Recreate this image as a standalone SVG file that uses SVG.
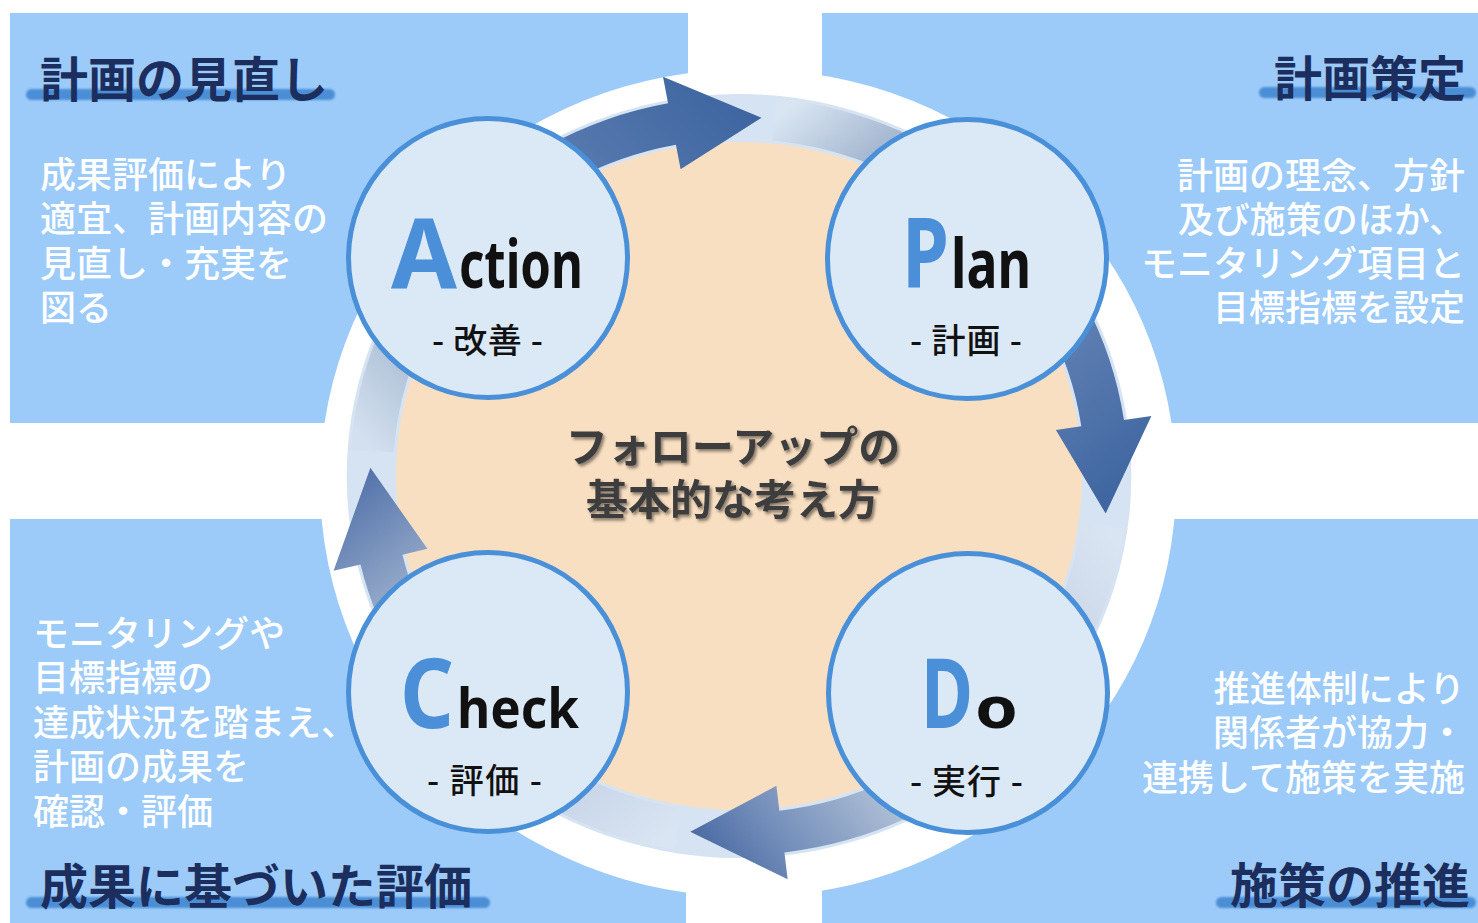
<svg xmlns="http://www.w3.org/2000/svg" width="1478" height="923" viewBox="0 0 1478 923">
<defs>
<style>
.panel{fill:#9ccbf9}
.bar{fill:#4b8ed6}
.hdr{font-family:"Noto Sans CJK JP",sans-serif;font-weight:700;font-size:48px;fill:#1b2e5e}
.body{font-family:"Noto Sans CJK JP",sans-serif;font-weight:500;font-size:36px;fill:#ffffff}
.node circle{fill:#dbe8f6;stroke:#4a90d9;stroke-width:5}
.word{font-family:"Noto Sans","Open Sans",sans-serif;font-weight:700;fill:#111111}
.big{fill:#4a8fd8}
.sub{font-family:"Noto Sans CJK JP",sans-serif;font-weight:500;font-size:34px;fill:#111111}
.center{font-family:"Noto Sans CJK JP",sans-serif;font-weight:700;font-size:42px;fill:#3c3c3c;text-anchor:middle}
.end{text-anchor:end}
</style>
<mask id="cut" maskUnits="userSpaceOnUse" x="0" y="0" width="1478" height="923">
<rect width="1478" height="923" fill="#fff"/>
<ellipse cx="748" cy="483" rx="428" ry="414" fill="#000"/>
</mask>
<filter id="soft" x="-5%" y="-50%" width="110%" height="200%"><feGaussianBlur stdDeviation="0.8"/></filter>
<filter id="shadow" x="-10%" y="-30%" width="130%" height="170%"><feDropShadow dx="2" dy="2.5" stdDeviation="1.5" flood-color="#000" flood-opacity="0.45"/></filter>
<linearGradient id="g1" gradientUnits="userSpaceOnUse" x1="-357.1" y1="-25" x2="21.9" y2="-358.3">
<stop offset="0" stop-color="#d3e0ef"/><stop offset="0.14" stop-color="#b6c7dc"/><stop offset="0.6" stop-color="#5b7db1"/><stop offset="1" stop-color="#3e65a0"/>
</linearGradient>
<linearGradient id="g2" gradientUnits="userSpaceOnUse" x1="34.3" y1="-356.4" x2="357" y2="37.5">
<stop offset="0" stop-color="#d9e5f2"/><stop offset="0.16" stop-color="#a9bbd3"/><stop offset="0.66" stop-color="#6080b3"/><stop offset="1" stop-color="#3e65a0"/>
</linearGradient>
<linearGradient id="g3" gradientUnits="userSpaceOnUse" x1="354.5" y1="49.8" x2="-47.5" y2="355.9">
<stop offset="0" stop-color="#d9e5f2"/><stop offset="0.12" stop-color="#d0dcec"/><stop offset="0.67" stop-color="#aabbd4"/><stop offset="0.86" stop-color="#7590bb"/><stop offset="1" stop-color="#4b6ba3"/>
</linearGradient>
<linearGradient id="g4" gradientUnits="userSpaceOnUse" x1="-59.7" y1="353" x2="-358.9" y2="-8.2">
<stop offset="0" stop-color="#d9e5f2"/><stop offset="0.17" stop-color="#cbd8ea"/><stop offset="0.76" stop-color="#93a8c8"/><stop offset="0.84" stop-color="#7f97bf"/><stop offset="1" stop-color="#5373aa"/>
</linearGradient>
</defs>

<rect width="1478" height="923" fill="#ffffff"/>

<g id="panel-review">
<rect class="panel" x="10" y="13" width="678" height="410" mask="url(#cut)"/>
<rect class="bar" x="26" y="89" width="309" height="11" rx="5.5" filter="url(#soft)"/>
<text class="hdr" x="40" y="97">計画の見直し</text>
<text class="body"><tspan x="40" y="188">成果評価により</tspan><tspan x="40" y="232">適宜、計画内容の</tspan><tspan x="40" y="277">見直し・充実を</tspan><tspan x="40" y="321">図る</tspan></text>
</g>

<g id="panel-plan">
<rect class="panel" x="822" y="13" width="656" height="410" mask="url(#cut)"/>
<rect class="bar" x="1259" y="87" width="217" height="11" rx="5.5" filter="url(#soft)"/>
<text class="hdr end" x="1466" y="96">計画策定</text>
<text class="body end"><tspan x="1465" y="189">計画の理念、方針</tspan><tspan x="1465" y="233">及び施策のほか、</tspan><tspan x="1465" y="277">モニタリング項目と</tspan><tspan x="1465" y="321">目標指標を設定</tspan></text>
</g>

<g id="panel-evaluation">
<rect class="panel" x="10" y="519" width="676" height="404" mask="url(#cut)"/>
<rect class="bar" x="26" y="897" width="464" height="11" rx="5.5" filter="url(#soft)"/>
<text class="hdr" x="40" y="904">成果に基づいた評価</text>
<text class="body"><tspan x="33" y="647">モニタリングや</tspan><tspan x="33" y="691">目標指標の</tspan><tspan x="33" y="736">達成状況を踏まえ、</tspan><tspan x="33" y="780">計画の成果を</tspan><tspan x="33" y="825">確認・評価</tspan></text>
</g>

<g id="panel-promotion">
<rect class="panel" x="822" y="519" width="656" height="404" mask="url(#cut)"/>
<rect class="bar" x="1216" y="897" width="260" height="11" rx="5.5" filter="url(#soft)"/>
<text class="hdr end" x="1470" y="903">施策の推進</text>
<text class="body end"><tspan x="1465" y="702">推進体制により</tspan><tspan x="1465" y="746">関係者が協力・</tspan><tspan x="1465" y="791">連携して施策を実施</tspan></text>
</g>

<g id="cycle-ring" transform="translate(739 476) scale(1.027 1)">
<circle r="382" fill="#d6e3f2"/>
<circle r="334" fill="#f9dfc2"/>
</g>

<g id="connectors" transform="translate(739 476) scale(1.027 1)">
<path id="arrow-act-plan" fill="url(#g1)" d="M -378.08 -26.44 A 379 379 0 0 1 -69.07 -372.65 L -73.99 -399.2 L 21.92 -358.33 L -56.86 -306.77 L -61.41 -331.36 A 337 337 0 0 0 -336.18 -23.51 Z"/>
<path id="arrow-plan-do" fill="url(#g2)" d="M 36.33 -377.26 A 379 379 0 0 1 374.84 -56.02 L 401.54 -60.01 L 357.03 37.53 L 308.57 -46.12 L 333.3 -49.81 A 337 337 0 0 0 32.3 -335.45 Z"/>
<path id="arrow-do-check" fill="url(#g3)" d="M 375.31 52.75 A 379 379 0 0 1 44.22 376.41 L 47.37 403.23 L -47.48 355.85 L 36.4 309.87 L 39.32 334.7 A 337 337 0 0 0 333.72 46.9 Z"/>
<path id="arrow-check-act" fill="url(#g4)" d="M -63.21 373.69 A 379 379 0 0 1 -368.53 88.48 L -394.78 94.78 L -358.91 -8.15 L -303.38 72.84 L -327.69 78.67 A 337 337 0 0 0 -56.2 332.28 Z"/>
</g>

<g id="center-title" filter="url(#shadow)">
<text class="center"><tspan x="733" y="462">フォローアップの</tspan><tspan x="733" y="515">基本的な考え方</tspan></text>
</g>

<g id="node-action" class="node">
<circle cx="488" cy="258" r="139.5"/>
<text class="word" y="288"><tspan class="big" x="391" font-size="96" textLength="66" lengthAdjust="spacingAndGlyphs">A</tspan><tspan x="459" font-size="66" textLength="124" lengthAdjust="spacingAndGlyphs">ction</tspan></text>
<text class="sub" x="432" y="353" textLength="111">- 改善 -</text>
</g>

<g id="node-plan" class="node">
<circle cx="967" cy="259" r="139.5"/>
<text class="word" y="288"><tspan class="big" x="902" font-size="96" textLength="47" lengthAdjust="spacingAndGlyphs">P</tspan><tspan x="951" font-size="68" textLength="80" lengthAdjust="spacingAndGlyphs">lan</tspan></text>
<text class="sub" x="910" y="353" textLength="112">- 計画 -</text>
</g>

<g id="node-check" class="node">
<circle cx="488" cy="692" r="139.5"/>
<text class="word" y="728"><tspan class="big" x="400" font-size="96" textLength="54" lengthAdjust="spacingAndGlyphs">C</tspan><tspan x="457" font-size="56" textLength="122" lengthAdjust="spacingAndGlyphs">heck</tspan></text>
<text class="sub" x="427" y="793" textLength="115">- 評価 -</text>
</g>

<g id="node-do" class="node">
<circle cx="968" cy="693" r="139.5"/>
<text class="word" y="728"><tspan class="big" x="921" font-size="96" textLength="52" lengthAdjust="spacingAndGlyphs">D</tspan><tspan x="975" font-size="58" textLength="43" lengthAdjust="spacingAndGlyphs">o</tspan></text>
<text class="sub" x="910" y="794" textLength="113">- 実行 -</text>
</g>
</svg>
